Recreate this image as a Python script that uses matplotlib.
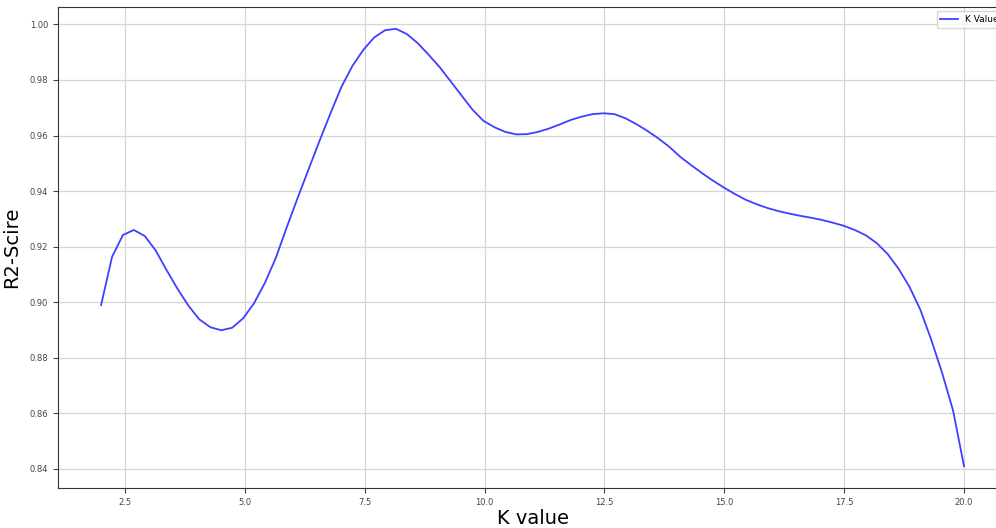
import numpy as np
import matplotlib
matplotlib.use('Agg')
import matplotlib.pyplot as plt

# K values (80 evenly spaced points from 2 to 20)
k_values = np.linspace(2, 20, 80)
r2_scores = [
    0.8990, 0.9163, 0.9242, 0.9260, 0.9238, 0.9186, 0.9115, 0.9048, 0.8987, 0.8938,
    0.8910, 0.8899, 0.8908, 0.8942, 0.8996, 0.9070, 0.9160, 0.9270, 0.9376, 0.9479,
    0.9581, 0.9680, 0.9775, 0.9850, 0.9908, 0.9953, 0.9979, 0.9984, 0.9965, 0.9932,
    0.9890, 0.9846, 0.9795, 0.9744, 0.9693, 0.9653, 0.9630, 0.9613, 0.9604, 0.9605,
    0.9613, 0.9625, 0.9640, 0.9656, 0.9668, 0.9677, 0.9680, 0.9677, 0.9662, 0.9641,
    0.9617, 0.9590, 0.9560, 0.9524, 0.9494, 0.9465, 0.9438, 0.9413, 0.9390, 0.9369,
    0.9353, 0.9339, 0.9328, 0.9319, 0.9311, 0.9304, 0.9296, 0.9286, 0.9275, 0.9260,
    0.9241, 0.9213, 0.9174, 0.9121, 0.9056, 0.8973, 0.8865, 0.8745, 0.8610, 0.8410,
]

fig = plt.figure(figsize=(9.96, 5.28), dpi=100)
ax = fig.add_axes([0.0582, 0.0758, 0.953, 0.911])

ax.plot(k_values, r2_scores, color='#3f3fff', linewidth=1.3, label='K Value')
ax.grid(True, color='#d6d6d6', linewidth=0.9)
ax.set_axisbelow(True)

ax.set_xlabel('K value', fontsize=14, labelpad=2)
ax.set_ylabel('R2-Scire', fontsize=14, labelpad=6)
ax.tick_params(labelsize=6, colors='#444444', labelcolor='#444444')
for s in ax.spines.values():
    s.set_color('#333333')

# legend sits at the axes' right edge, which is cropped like in the original
ax.legend(loc='upper right', fontsize=6.5)

plt.savefig('out.png', dpi=100)
